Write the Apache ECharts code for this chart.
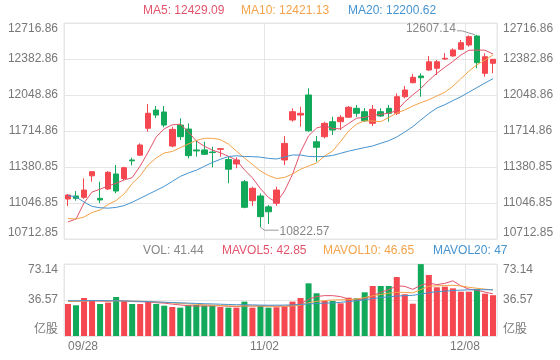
<!DOCTYPE html>
<html><head><meta charset="utf-8">
<script src="https://cdn.jsdelivr.net/npm/echarts@6/dist/echarts.min.js"></script>
<style>html,body{margin:0;padding:0;background:#fff}#c{width:560px;height:360px}</style>
</head><body><div id="c"></div>
<script>
var dates = ['09/28','09/29','09/30','10/01','10/02','10/05','10/06','10/07','10/08','10/09',
  '10/12','10/13','10/14','10/15','10/16','10/19','10/20','10/21','10/22','10/23',
  '10/26','10/27','10/28','10/29','10/30','11/02','11/03','11/04','11/05','11/06',
  '11/09','11/10','11/11','11/12','11/13','11/16','11/17','11/18','11/19','11/20',
  '11/23','11/24','11/25','11/27','11/30','12/01','12/02','12/03','12/04','12/07',
  '12/08','12/09','12/10','12/11'];
// [open, close, low, high]
var ohlc = [
  [11084,11121,11019,11130],[11112,11090,11068,11158],[11100,11167,11085,11276],[11299,11337,11244,11343],
  [11090,11075,11046,11244],[11177,11332,11167,11343],[11316,11158,11137,11399],[11274,11374,11260,11383],
  [11446,11438,11396,11467],[11491,11585,11486,11600],[11740,11879,11708,11965],[11909,11863,11835,11947],
  [11891,11770,11749,11947],[11575,11730,11564,11754],[11770,11662,11631,11832],[11733,11486,11461,11786],
  [11539,11530,11476,11631],[11539,11499,11492,11615],[11520,11515,11378,11569],[11545,11551,11476,11555],
  [11450,11360,11230,11476],[11409,11446,11369,11471],[11244,11007,10998,11260],[11068,11183,11019,11198],
  [11112,10920,10822.57,11137],[11011,10965,10852,11028],[11045,11167,11019,11198],[11446,11600,11399,11668],
  [11817,11894,11801,11925],[11863,11879,11755,11940],[12049,11717,11708,12111],[11615,11564,11430,11668],
  [11662,11786,11647,11801],[11801,11724,11678,11847],[11801,11842,11724,11863],[11843,11935,11835,11947],
  [11925,11879,11847,11956],[11894,11810,11798,11928],[11786,11916,11761,11956],[11894,11854,11845,11925],
  [11925,11879,11801,11956],[11879,12033,11863,12064],[12033,12095,12018,12132],[12163,12213,12157,12244],
  [12225,12209,12033,12250],[12281,12357,12274,12410],[12297,12357,12234,12373],[12383,12389,12373,12438],
  [12411,12467,12404,12482],[12473,12534,12466,12559],[12513,12590,12497,12601],[12596,12349,12297,12607.14],
  [12250,12404,12219,12436],[12343,12380,12250,12383]
];
var ma5 = [10871,10898,11047,11149,11175,11205,11230,11260,11282,11390,11520,11660,11735,11772,11778,11708,11622,11573,11538,11513,
  11480,11445,11355,11280,11180,11098,11052,11158,11312,11520,11670,11742,11764,11738,11735,11785,11834,11842,11860,11870,
  11880,11904,11985,12050,12110,12185,12250,12307,12360,12420,12464,12466,12465,12429.09];
var ma10 = [10903,10898,10917,10959,10982,11033,11070,11131,11228,11300,11400,11465,11511,11525,11560,11594,11627,11647,11647,11635,
  11594,11529,11465,11404,11344,11302,11274,11284,11316,11360,11390,11418,11483,11529,11618,11715,11780,11808,11808,11801,
  11840,11882,11910,11947,11978,12005,12040,12075,12130,12200,12270,12330,12372,12421.13];
var ma20 = [11117,11103,11056,11015,11003,10999,11006,11023,11054,11090,11127,11164,11201,11247,11293,11325,11351,11387,11423,11452,
  11478,11485,11478,11477,11472,11461,11455,11474,11492,11492,11479,11477,11478,11488,11508,11528,11545,11561,11576,11601,
  11625,11659,11706,11755,11817,11877,11928,11959,11997,12033,12075,12118,12160,12200.62];
var volumes = [32.5,31.2,38.6,36.3,32.5,33.9,39.6,35.6,32.5,32.5,34.9,32.5,30.8,29.5,28.8,31.2,31.5,30.8,30.8,29.5,
  28.8,28.8,34.9,28.8,30.5,28.8,29.2,30.0,34.9,38.6,53.5,43.4,35.6,35.6,33.2,38.9,38.3,44.4,50.8,50.8,
  50.8,59.9,42.4,32.8,73.0,62.0,49.5,50.1,48.4,45.0,45.0,47.7,43.0,41.44];
var mavol5 = [35.5,35.2,35.6,35.8,35.4,35.3,36.2,35.6,35.0,34.8,34.6,33.8,33.4,32.4,31.5,30.8,30.4,30.6,30.6,30.7,
  30.2,29.8,30.6,30.4,30.6,30.4,30.3,30.2,30.8,32.6,37.2,40.1,41.0,41.0,40.0,37.3,36.4,38.0,41.0,44.4,
  47.0,51.0,50.4,47.4,51.5,53.8,52.2,53.5,56.0,51.0,47.6,46.4,44.6,42.85];
var mavol10 = [35.0,35.2,35.5,36.0,35.8,35.6,35.8,35.6,35.4,35.3,35.0,34.6,34.2,33.6,33.0,32.6,32.2,31.8,31.4,31.0,
  30.6,30.4,30.6,30.5,30.5,30.3,30.3,30.3,30.6,31.4,33.8,35.2,36.0,36.6,36.8,37.0,37.6,39.0,40.8,42.2,
  43.5,44.4,44.3,43.8,47.2,50.5,51.0,51.2,51.5,50.9,49.5,48.5,47.6,46.65];
var mavol20 = [35.8,35.8,35.9,36.0,36.0,35.9,35.8,35.6,35.4,35.2,34.9,34.6,34.3,34.0,33.7,33.4,33.1,32.8,32.6,32.3,
  32.0,31.8,31.8,31.6,31.4,31.3,31.3,31.4,31.6,32.0,32.6,33.0,33.4,33.6,34.2,35.0,35.8,36.8,38.0,39.0,
  39.8,40.6,41.0,41.3,42.6,44.0,45.0,45.6,46.2,46.6,46.9,47.0,47.0,47.0];
var priceAxis = [10712.85, 12716.862, 334.002];   // min, max, step
var volAxis = [0, 73.14, 36.57];
var volUnit = '亿股';
var maLegend = [['MA5','12429.09'],['MA10','12421.13'],['MA20','12200.62']];
var volLegend = [['VOL','41.44'],['MAVOL5','42.85'],['MAVOL10','46.65'],['MAVOL20','47']];

var FONT = 'Arial, "Liberation Sans", "Noto Sans CJK SC", sans-serif';
var UP = '#f4474f', DOWN = '#12a95a';
var C5 = '#e3546c', C10 = '#f5a34a', C20 = '#4593cf', GRID = '#e6e6e6', LAB = '#777';

var hiIdx = 0, loIdx = 0;
for (var i = 0; i < ohlc.length; i++) {
  if (ohlc[i][3] > ohlc[hiIdx][3]) hiIdx = i;
  if (ohlc[i][2] < ohlc[loIdx][2]) loIdx = i;
}
var extremes = [[hiIdx, ohlc[hiIdx][3], -1], [loIdx, ohlc[loIdx][2], 1]];

var chart = echarts.init(document.getElementById('c'), null, {renderer: 'canvas'});

function yAx(grid, pos, ax, fmt, split) {
  return {
    type: 'value', gridIndex: grid, position: pos, min: ax[0], max: ax[1], interval: ax[2],
    axisLine: {show: false}, axisTick: {show: false},
    axisLabel: {color: LAB, fontSize: 12, fontFamily: FONT, margin: 6, formatter: fmt,
      verticalAlignMinLabel: 'bottom', verticalAlignMaxLabel: 'top'},
    splitLine: {show: split, lineStyle: {color: GRID, width: 1}}
  };
}
var priceFmt = function (v) { return v.toFixed(2); };
var volFmt = function (v) { return v === 0 ? volUnit : v.toFixed(2); };

function xAx(grid, showLabel) {
  return {
    type: 'category', gridIndex: grid, data: dates, boundaryGap: true,
    axisLine: {show: false}, axisTick: {show: false},
    axisLabel: {show: showLabel, interval: 24, color: LAB, fontSize: 12, fontFamily: FONT, margin: 5,
      padding: [0, 8, 0, 0], alignMinLabel: 'left'},
    splitLine: {show: true, interval: 24, lineStyle: {color: GRID, width: 1}}
  };
}

var graphics = [];
var maX = [143, 241, 348], maC = [C5, C10, C20];
maLegend.forEach(function (m, k) {
  graphics.push({type: 'text', x: maX[k], y: 11, style: {text: m[0] + ': ' + m[1], fill: maC[k], font: '12px ' + FONT, verticalAlign: 'middle'}});
});
var vX = [143, 222, 323, 433], vC = ['#888', C5, C10, C20];
volLegend.forEach(function (m, k) {
  graphics.push({type: 'text', x: vX[k], y: 251, style: {text: m[0] + ': ' + m[1], fill: vC[k], font: '12px ' + FONT, verticalAlign: 'middle'}});
});

function line(name, data, color, xi, yi) {
  return {name: name, type: 'line', data: data, xAxisIndex: xi, yAxisIndex: yi, symbol: 'none',
    lineStyle: {color: color, width: 1}, silent: true, z: 3};
}

chart.setOption({
  animation: false,
  backgroundColor: '#fff',
  grid: [
    {left: 64, right: 63, top: 23, height: 216, show: true, borderColor: GRID, borderWidth: 1},
    {left: 64, right: 63, top: 264, height: 72, show: true, borderColor: GRID, borderWidth: 1}
  ],
  xAxis: [xAx(0, false), xAx(1, true)],
  yAxis: [
    yAx(0, 'left', priceAxis, priceFmt, true), yAx(0, 'right', priceAxis, priceFmt, false),
    yAx(1, 'left', volAxis, volFmt, true), yAx(1, 'right', volAxis, volFmt, false)
  ],
  graphic: graphics,
  series: [
    {type: 'candlestick', data: ohlc, xAxisIndex: 0, yAxisIndex: 0, barWidth: 6,
      itemStyle: {color: UP, color0: DOWN, borderColor: UP, borderColor0: DOWN, borderWidth: 1}},
    line('MA5', ma5, C5, 0, 0), line('MA10', ma10, C10, 0, 0), line('MA20', ma20, C20, 0, 0),
    {type: 'bar', data: volumes, xAxisIndex: 1, yAxisIndex: 2, barWidth: 6,
      itemStyle: {color: function (p) { var d = ohlc[p.dataIndex]; return d[1] >= d[0] ? UP : DOWN; }}},
    line('MAVOL5', mavol5, C5, 1, 2), line('MAVOL10', mavol10, C10, 1, 2), line('MAVOL20', mavol20, C20, 1, 2),
    {type: 'custom', data: extremes, xAxisIndex: 0, yAxisIndex: 0, z: 10, silent: true,
      encode: {x: 0, y: 1},
      renderItem: function (params, api) {
        var p = api.coord([api.value(0), api.value(1)]);
        var d = api.value(2);
        var txt = api.value(1).toFixed(2);
        var pts, tx, ty, al;
        if (d < 0) {
          pts = [[p[0] - 2, p[1]], [p[0] - 15, p[1] - 4], [p[0] - 20, p[1] - 4]];
          tx = p[0] - 21; ty = p[1] - 6; al = 'right';
        } else {
          pts = [[p[0], p[1]], [p[0] + 4, p[1] + 3], [p[0] + 18, p[1] + 3]];
          tx = p[0] + 19; ty = p[1] + 4.5; al = 'left';
        }
        return {type: 'group', children: [
          {type: 'polyline', shape: {points: pts}, style: {stroke: '#999', lineWidth: 1, fill: null}},
          {type: 'text', style: {text: txt, x: tx, y: ty, fill: '#888', font: '12px ' + FONT, align: al, verticalAlign: 'middle'}}
        ]};
      }}
  ]
});
</script></body></html>
